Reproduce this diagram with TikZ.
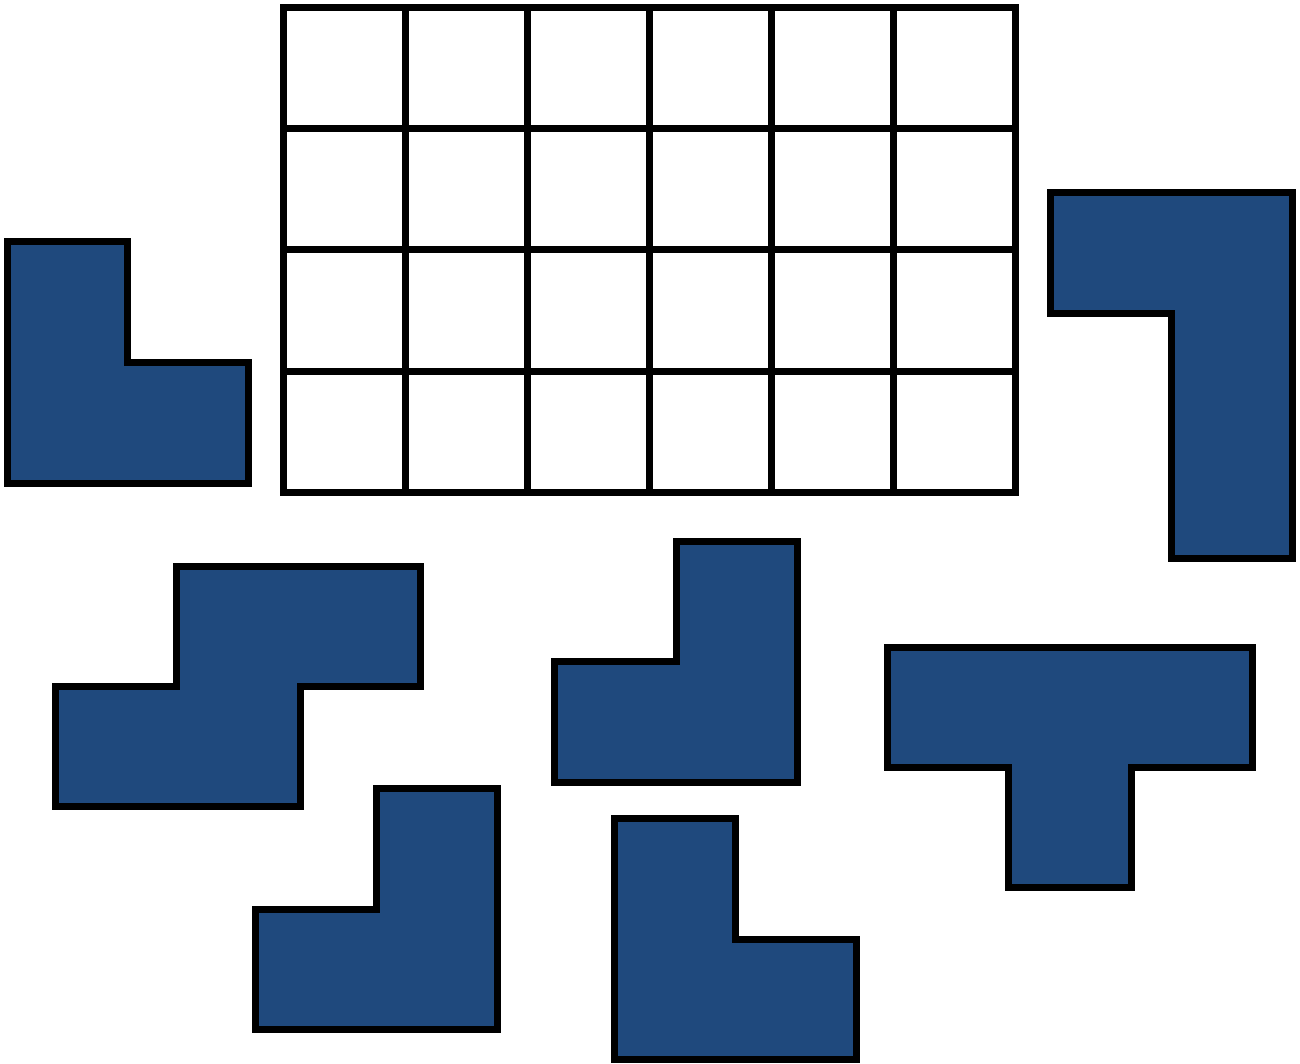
\documentclass[tikz,border=0pt]{standalone}
\definecolor{piece}{RGB}{31,73,125}
\begin{document}
\begin{tikzpicture}[x=1pt,y=-1pt,
  piecestyle/.style={draw=black,fill=piece,line width=7pt,line join=miter},
  gridstyle/.style={draw=black,line width=7pt}]
\useasboundingbox (0,0) rectangle (1300,1063);
% grid
\foreach \x in {283.5,405.5,527.5,649.5,771.5,893.5,1015.5}
  \draw[gridstyle] (\x,7.5) -- (\x,492.5);
\foreach \y in {7.5,128.5,249.5,371.5,492.5}
  \draw[gridstyle] (283.5,\y) -- (1015.5,\y);
\draw[gridstyle] (283.5,7.5) rectangle (1015.5,492.5);
% left L
\draw[piecestyle] (7.5,241.5) -- (127.5,241.5) -- (127.5,362.5) -- (248.5,362.5) -- (248.5,483.5) -- (7.5,483.5) -- cycle;
% right piece
\draw[piecestyle] (1050.5,192.5) -- (1292.5,192.5) -- (1292.5,558.5) -- (1171.5,558.5) -- (1171.5,313.5) -- (1050.5,313.5) -- cycle;
% S piece
\draw[piecestyle] (55.5,686.5) -- (176.5,686.5) -- (176.5,566.5) -- (420.5,566.5) -- (420.5,686.5) -- (300.5,686.5) -- (300.5,806.5) -- (55.5,806.5) -- cycle;
% middle upper J
\draw[piecestyle] (554.5,661.5) -- (676.5,661.5) -- (676.5,541.5) -- (797.5,541.5) -- (797.5,782.5) -- (554.5,782.5) -- cycle;
% T piece
\draw[piecestyle] (887.5,647.5) -- (1252.5,647.5) -- (1252.5,767.5) -- (1131.5,767.5) -- (1131.5,887.5) -- (1008.5,887.5) -- (1008.5,767.5) -- (887.5,767.5) -- cycle;
% bottom left J
\draw[piecestyle] (255.5,909.5) -- (376.5,909.5) -- (376.5,788.5) -- (497.5,788.5) -- (497.5,1029.5) -- (255.5,1029.5) -- cycle;
% bottom middle L
\draw[piecestyle] (614.5,818.5) -- (735.5,818.5) -- (735.5,939.5) -- (856.5,939.5) -- (856.5,1059.5) -- (614.5,1059.5) -- cycle;
\end{tikzpicture}
\end{document}
